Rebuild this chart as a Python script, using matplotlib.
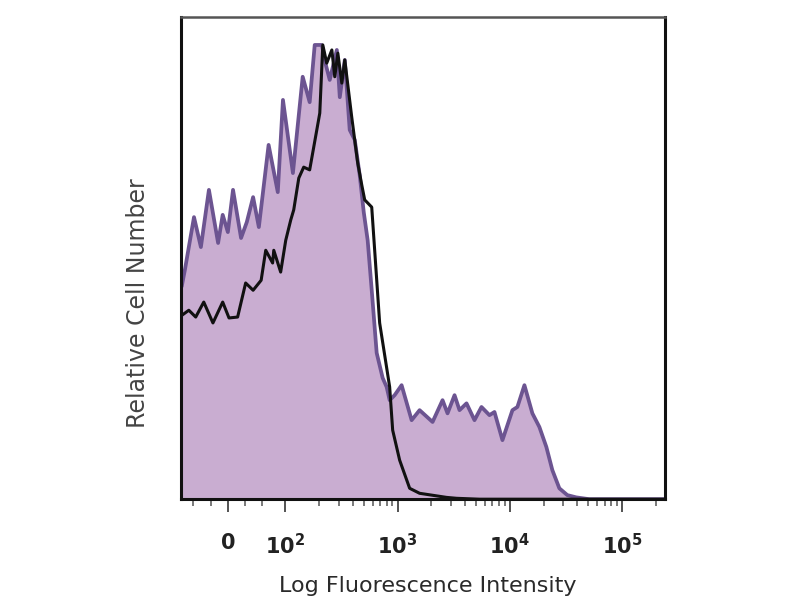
import matplotlib
matplotlib.use("Agg")
from matplotlib import pyplot as plt
from matplotlib.ticker import NullFormatter

# fluorescence intensity (x) and relative counts (y)
stained_x = [-80, -75, -59, -47, -33, -17, -9, 0, 9, 23, 33, 44, 54, 71, 87, 96,
             117, 143, 165, 183, 212, 230, 249, 288, 306, 339, 375, 416, 460,
             500, 542, 589, 652, 737, 800, 851, 942, 1087, 1335, 1572, 2051,
             2517, 2788, 3219, 3565, 4114, 4845, 5593, 6588, 7298, 8597, 10550,
             11680, 13490, 15880, 18330, 21150, 23920, 27610, 32510, 39080,
             51010, 240000]
stained_y = [47.1, 50.4, 62.1, 55.5, 68.1, 56.4, 62.6, 58.8, 68.1, 57.5, 61.0,
             66.5, 59.9, 78.0, 67.6, 87.9, 71.8, 93.0, 87.4, 100.0, 100.0, 95.6,
             92.3, 98.9, 88.5, 96.7, 81.3, 79.1, 71.4, 63.2, 57.0, 46.0, 32.2,
             26.7, 24.7, 21.8, 22.9, 25.1, 17.4, 19.6, 17.0, 21.8, 18.9, 22.9,
             19.6, 21.1, 17.4, 20.3, 18.5, 19.2, 13.0, 19.6, 20.3, 25.1, 18.9,
             15.9, 11.5, 6.4, 2.4, 0.9, 0.4, 0.0, 0.0]

control_x = [-80, -68, -56, -42, -26, -9, 2, 17, 31, 44, 58, 66, 78, 80, 92,
             101, 112, 119, 132, 146, 165, 191, 203, 216, 234, 260, 276, 294,
             319, 339, 391, 442, 480, 510, 589, 693, 851, 905, 1044, 1282, 1572,
             2732, 3351, 5369, 240000]
control_y = [40.5, 41.6, 40.1, 43.4, 38.8, 43.4, 39.9, 40.1, 47.6, 46.0, 48.2,
             54.8, 52.0, 54.8, 50.0, 57.0, 61.5, 63.7, 70.7, 73.1, 72.5, 81.3,
             85.0, 100.0, 96.0, 98.9, 93.0, 98.2, 91.6, 96.7, 84.1, 74.0, 69.2,
             65.9, 64.3, 38.8, 24.7, 15.2, 8.6, 2.4, 1.3, 0.4, 0.2, 0.0, 0.0]

major_ticks = [0, 100, 1000, 10000, 100000]
major_labels = ["0", r"$\mathbf{10^2}$", r"$\mathbf{10^3}$",
                r"$\mathbf{10^4}$", r"$\mathbf{10^5}$"]
minor_ticks = [-60, -30, 30, 60] + [m * 10 ** k for k in (2, 3, 4) for m in range(2, 10)] + [200000]

fill_color = "#c9add1"
line_color = "#6c5491"

fig = plt.figure(figsize=(8, 6), dpi=100)
ax = fig.add_axes([0.226, 0.168, 0.605, 0.804])

ax.set_xscale("symlog", linthresh=100, linscale=0.46)
ax.fill_between(stained_x, stained_y, 0, color=fill_color, lw=0)
ax.plot(stained_x, stained_y, color=line_color, lw=2.7, solid_joinstyle="round")
ax.plot(control_x, control_y, color="#111111", lw=2.2, solid_joinstyle="round")

ax.set_xlim(-82, 240000)
ax.set_ylim(0, 106.2)

ax.set_xticks(major_ticks)
ax.set_xticklabels(major_labels)
ax.set_xticks(minor_ticks, minor=True)
ax.xaxis.set_minor_formatter(NullFormatter())
ax.tick_params(axis="x", which="major", length=9.5, width=1.3, color="#444444",
               pad=15, labelsize=15, labelcolor="#222222")
ax.tick_params(axis="x", which="minor", length=5, width=1.1, color="#555555")
for lab in ax.get_xticklabels():
    lab.set_fontweight("bold")
ax.set_yticks([])

for side in ["left", "bottom", "right"]:
    ax.spines[side].set_linewidth(2.2)
    ax.spines[side].set_color("#111111")
ax.spines["top"].set_linewidth(1.8)
ax.spines["top"].set_color("#555555")

ax.set_xlabel("Log Fluorescence Intensity", fontsize=16, color="#2a2a2a")
ax.xaxis.set_label_coords(0.510, -0.160)
ax.set_ylabel("Relative Cell Number", fontsize=17, color="#444444")
ax.yaxis.set_label_coords(-0.064, 0.407)

fig.savefig("out.png", dpi=100)
